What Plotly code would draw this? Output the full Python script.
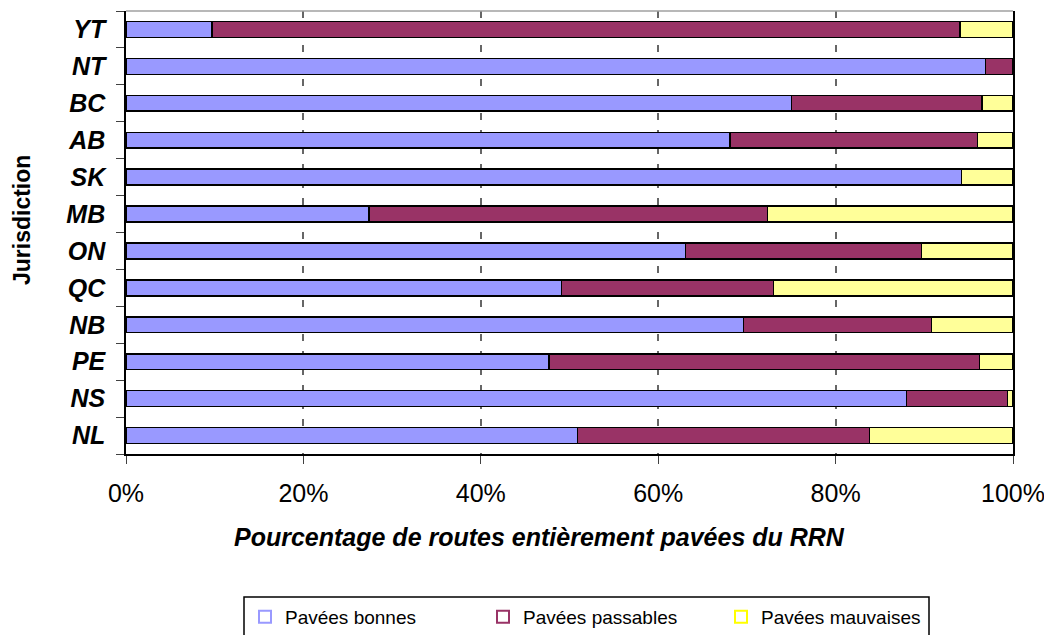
import plotly.graph_objects as go

jurisdictions = ["NL", "NS", "PE", "NB", "QC", "ON", "MB", "SK", "AB", "BC", "NT", "YT"]
bonnes =    [50.9, 88.0, 47.7, 69.6, 49.1, 63.1, 27.4, 94.2, 68.1, 75.0, 96.9, 9.7]
passables = [32.9, 11.4, 48.5, 21.2, 23.9, 26.6, 44.9, 0.0, 27.9, 21.5, 3.1, 84.3]
mauvaises = [16.2, 0.6, 3.8, 9.2, 27.0, 10.3, 27.7, 5.8, 4.0, 3.5, 0.0, 6.0]

series_names = ["Pavées bonnes", "Pavées passables", "Pavées mauvaises"]
fill_colors = ["#9999FF", "#993366", "#FFFF99"]
legend_colors = ["#9999FF", "#993366", "#FFFF00"]

FONT = "Liberation Sans, Arial, sans-serif"

# page body has an 8px margin, so the figure is sized to fit the window
OFF = 8
W, H = 1052 - OFF, 635 - OFF
PL, PT, PW, PH = 126 - OFF, 11 - OFF, 887, 443


def px_x(px):
    return (px - 126) / PW


def px_y(py):
    return (454 - py) / PH


fig = go.Figure()
for name, vals, col in zip(series_names, [bonnes, passables, mauvaises], fill_colors):
    fig.add_trace(go.Bar(
        y=jurisdictions, x=vals, name=name, orientation="h",
        marker=dict(color=col, line=dict(color="black", width=1.5)),
        showlegend=False,
    ))

for name, col in zip(series_names, legend_colors):
    fig.add_trace(go.Scatter(
        x=[None], y=[None], mode="markers", name=name,
        marker=dict(symbol="square-open", size=14, color=col, line=dict(width=1.5, color=col)),
        showlegend=True,
    ))

fig.update_layout(
    width=W, height=H,
    barmode="stack", bargap=0.57,
    plot_bgcolor="white", paper_bgcolor="white",
    margin=dict(l=PL, r=W - PL - PW, t=PT, b=H - PT - PH, autoexpand=False),
    font=dict(family=FONT, color="black"),
    xaxis=dict(
        range=[0, 100], tickvals=[0, 20, 40, 60, 80, 100],
        ticktext=["0%", "20%", "40%", "60%", "80%", "100%"],
        tickfont=dict(size=25, family=FONT),
        ticks="outside", ticklen=8, tickcolor="#404040",
        ticklabelstandoff=8,
        showgrid=True, gridcolor="#666666", griddash="7px,10px", gridwidth=1.5,
        showline=True, linecolor="black", linewidth=1.5, mirror=False,
        zeroline=False,
    ),
    yaxis=dict(
        categoryorder="array", categoryarray=jurisdictions,
        tickfont=dict(size=25, family=FONT, weight="bold", style="italic"),
        ticks="outside", ticklen=8, tickson="boundaries", tickcolor="#404040",
        showline=True, linecolor="black", linewidth=1.5, mirror=True,
        showgrid=False, ticklabelstandoff=14,
    ),
    legend=dict(
        orientation="h", traceorder="normal",
        x=px_x(245), y=px_y(598), xanchor="left", yanchor="top",
        borderwidth=0, bgcolor="rgba(0,0,0,0)",
        font=dict(size=19, family=FONT), entrywidth=193, itemsizing="constant",
        itemclick=False,
    ),
    shapes=[
        dict(type="line", xref="paper", yref="paper", x0=0, x1=1, y0=1, y1=1,
             line=dict(color="#A0A0A0", width=1.5)),
        dict(type="rect", xref="paper", yref="paper",
             x0=px_x(244), x1=px_x(929), y0=px_y(597), y1=px_y(660),
             line=dict(color="black", width=1.5), fillcolor="rgba(0,0,0,0)", layer="below"),
    ],
    annotations=[
        dict(text="Pourcentage de routes entièrement pavées du RRN",
             xref="paper", yref="paper", x=px_x(539), y=px_y(537),
             xanchor="center", yanchor="middle", showarrow=False,
             font=dict(size=25, family=FONT, weight="bold", style="italic")),
        dict(text="Jurisdiction", textangle=-90,
             xref="paper", yref="paper", x=px_x(22), y=px_y(220),
             xanchor="center", yanchor="middle", showarrow=False,
             font=dict(size=23, family=FONT, weight="bold")),
    ],
)

fig.write_html("out.html")
